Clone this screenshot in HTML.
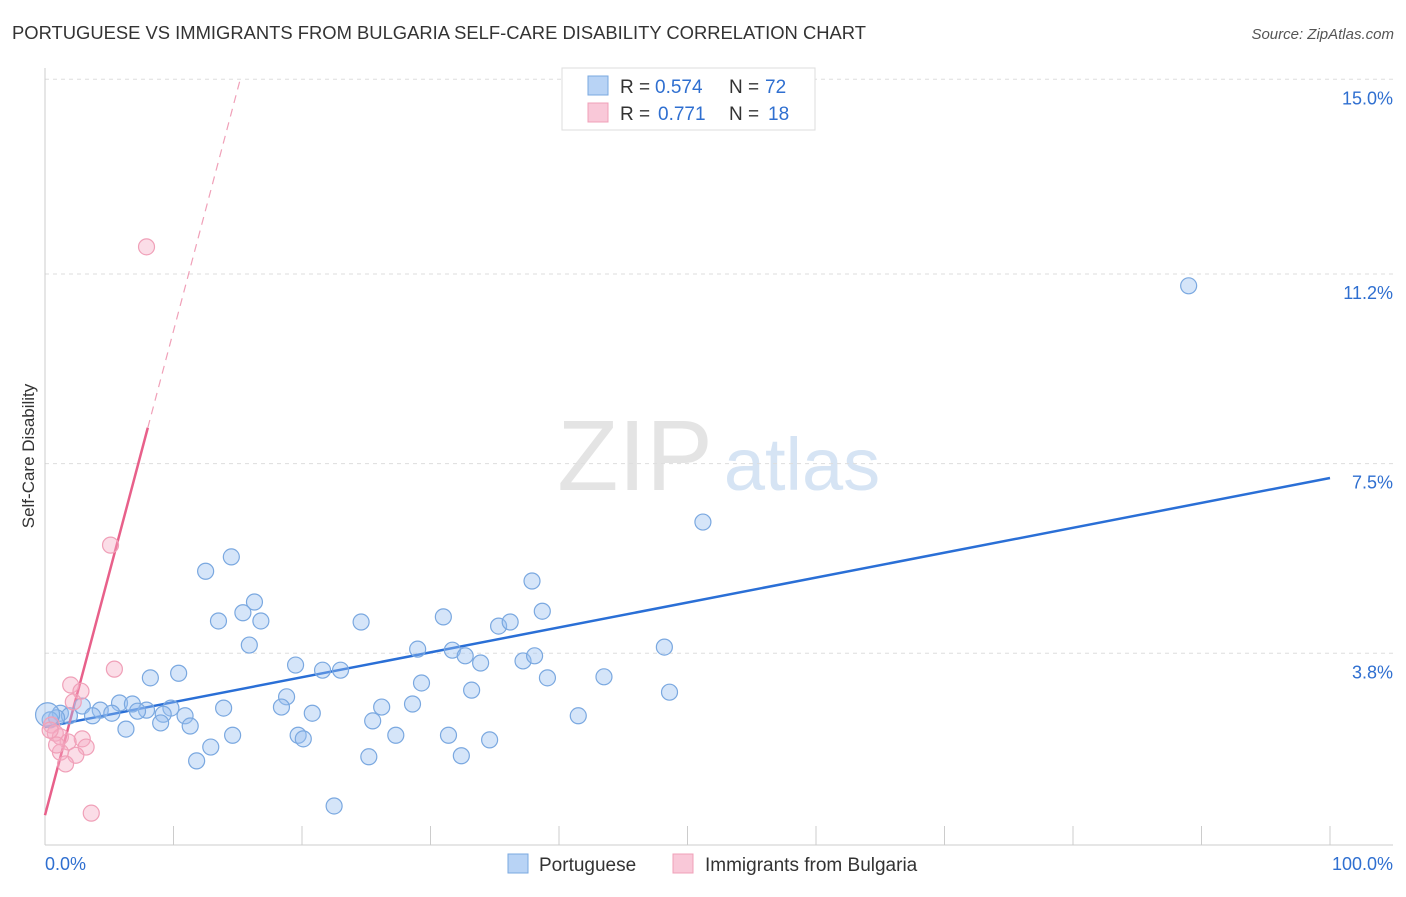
<!DOCTYPE html>
<html><head><meta charset="utf-8"><style>
body{margin:0;background:#fff;font-family:"Liberation Sans",sans-serif;}
svg text{font-family:"Liberation Sans",sans-serif;}
</style></head><body>
<svg id="chart" width="1406" height="892" xmlns="http://www.w3.org/2000/svg">
<text x="12" y="39" font-size="18.4" fill="#333">PORTUGUESE VS IMMIGRANTS FROM BULGARIA SELF-CARE DISABILITY CORRELATION CHART</text>
<text x="1394" y="39" font-size="15" fill="#555" font-style="italic" text-anchor="end">Source: ZipAtlas.com</text>
<text x="34" y="456" font-size="17" fill="#333" text-anchor="middle" transform="rotate(-90 34 456)">Self-Care Disability</text>
<g><text x="635" y="490" font-size="100" fill="#e4e4e4" font-family="Liberation Serif" text-anchor="middle">ZIP</text><text x="802" y="490" font-size="74" fill="#d6e4f4" text-anchor="middle">atlas</text></g>
<g id="grid"></g><g id="axes"></g><g id="lines"></g><g id="pts"></g>
<g>
<rect x="562" y="68" width="253" height="62" fill="#fff" stroke="#ddd"/>
<rect x="588" y="76" width="20" height="19" fill="#b8d3f5" stroke="#7aa8e0"/>
<rect x="588" y="103" width="20" height="19" fill="#f9c8d8" stroke="#f0a0b8"/>
<text y="93" font-size="19" fill="#333"><tspan x="620">R =</tspan><tspan x="655" fill="#2f6fd0">0.574</tspan><tspan x="729">N =</tspan><tspan x="765" fill="#2f6fd0">72</tspan></text>
<text y="120" font-size="19" fill="#333"><tspan x="620">R =</tspan><tspan x="658" fill="#2f6fd0">0.771</tspan><tspan x="729">N =</tspan><tspan x="768" fill="#2f6fd0">18</tspan></text>
</g>
<g>
<rect x="508" y="854" width="20" height="19" fill="#b8d3f5" stroke="#7aa8e0"/>
<text x="539" y="871" font-size="19" fill="#333">Portuguese</text>
<rect x="673" y="854" width="20" height="19" fill="#f9c8d8" stroke="#f0a0b8"/>
<text x="705" y="871" font-size="19" fill="#333">Immigrants from Bulgaria</text>
</g>
</svg>
<script>
const yTicks=[15.0,11.2,7.5,3.8];
const yTickLabels=["15.0%","11.2%","7.5%","3.8%"];
const xAxisLabels=["0.0%","100.0%"];
const blueX=[89.0,51.2,14.5,12.5,37.9,16.3,15.4,38.7,13.5,16.8,24.6,31.0,35.3,36.2,15.9,29.0,31.7,32.7,33.9,37.2,38.1,48.2,19.5,21.6,23.0,10.4,8.2,39.1,43.5,29.3,33.2,48.6,18.8,5.8,6.8,2.9,26.2,28.6,18.4,13.9,9.8,7.9,4.3,7.2,5.2,9.2,20.8,41.5,10.9,1.2,1.9,3.7,0.9,0.4,9.0,25.5,11.3,6.3,14.6,19.7,20.1,27.3,31.4,34.6,12.9,25.2,32.4,11.8,22.5,0.2];
const blueY=[10.97,6.36,5.68,5.40,5.21,4.80,4.59,4.62,4.43,4.43,4.41,4.51,4.33,4.41,3.96,3.88,3.86,3.75,3.61,3.65,3.75,3.92,3.57,3.47,3.47,3.41,3.32,3.32,3.34,3.22,3.08,3.04,2.95,2.83,2.81,2.77,2.75,2.81,2.75,2.73,2.73,2.69,2.69,2.67,2.63,2.61,2.63,2.58,2.58,2.63,2.58,2.58,2.54,2.50,2.44,2.48,2.38,2.32,2.20,2.20,2.13,2.20,2.20,2.11,1.97,1.78,1.80,1.70,0.82,2.6];
const pinkX=[7.9,5.1,5.4,2.0,2.8,2.2,0.5,0.8,1.2,2.9,1.8,3.2,1.2,2.4,1.6,3.6,0.4,0.9];
const pinkY=[11.73,5.91,3.49,3.18,3.06,2.85,2.40,2.24,2.17,2.13,2.07,1.97,1.87,1.81,1.64,0.68,2.30,2.01];
const blueFit=[2.36,7.22];
const pinkFit=[0.64,0.945];
const NS="http://www.w3.org/2000/svg";
const sx=v=>45+v*12.85, sy=v=>848-v*51.25;
function mk(tag,attrs,parent){const e=document.createElementNS(NS,tag);for(const k in attrs)e.setAttribute(k,attrs[k]);document.getElementById(parent).appendChild(e);return e;}
yTicks.forEach((t,i)=>{
 const g=mk('line',{x1:45,x2:1393,y1:sy(t),y2:sy(t),stroke:'#ddd','stroke-dasharray':'4,4'},'grid');
 
 
 const l=mk('text',{x:1393,y:sy(t)+25,'font-size':18,fill:'#2f6fd0','text-anchor':'end'},'grid');l.textContent=yTickLabels[i];
 
 
});
const ax=mk('line',{x1:45,x2:45,y1:68,y2:845,stroke:'#ccc'},'axes');


const bx=mk('line',{x1:45,x2:1393,y1:845,y2:845,stroke:'#ccc'},'axes');


for(let i=0;i<=10;i++){const t=mk('line',{x1:sx(i*10),x2:sx(i*10),y1:826,y2:845,stroke:'#ccc'},'axes');
 
 }
[[0,'start'],[100,'end']].forEach((p,i)=>{const t=mk('text',{x:sx(p[0])+(i?63:0),y:870,'font-size':18,fill:'#2f6fd0','text-anchor':i?'end':'start'},'axes');t.textContent=xAxisLabels[i];
 
 });
const bl=mk('line',{x1:sx(0),y1:sy(blueFit[0]),x2:sx(100),y2:sy(blueFit[1]),stroke:'#2a6fd6','stroke-width':2.5},'lines');


const pl=mk('line',{x1:sx(0),y1:sy(pinkFit[0]),x2:sx(8),y2:sy(pinkFit[0]+8*pinkFit[1]),stroke:'#e8608a','stroke-width':2.5},'lines');


const pd=mk('line',{x1:sx(8),y1:sy(pinkFit[0]+8*pinkFit[1]),x2:sx(15.2),y2:sy(pinkFit[0]+15.2*pinkFit[1]),stroke:'#f0a0b8','stroke-width':1.2,'stroke-dasharray':'8,6'},'lines');


blueX.forEach((x,i)=>{const c=mk('circle',{cx:sx(x),cy:sy(blueY[i]),r:i===blueX.length-1?12:8,fill:'rgba(150,190,240,0.4)',stroke:'#7aa8e0','stroke-width':1.2},'pts');
 
 });
pinkX.forEach((x,i)=>{const c=mk('circle',{cx:sx(x),cy:sy(pinkY[i]),r:8,fill:'rgba(245,170,195,0.4)',stroke:'#f0a0b8','stroke-width':1.2},'pts');
 
 });
</script>
</body></html>
